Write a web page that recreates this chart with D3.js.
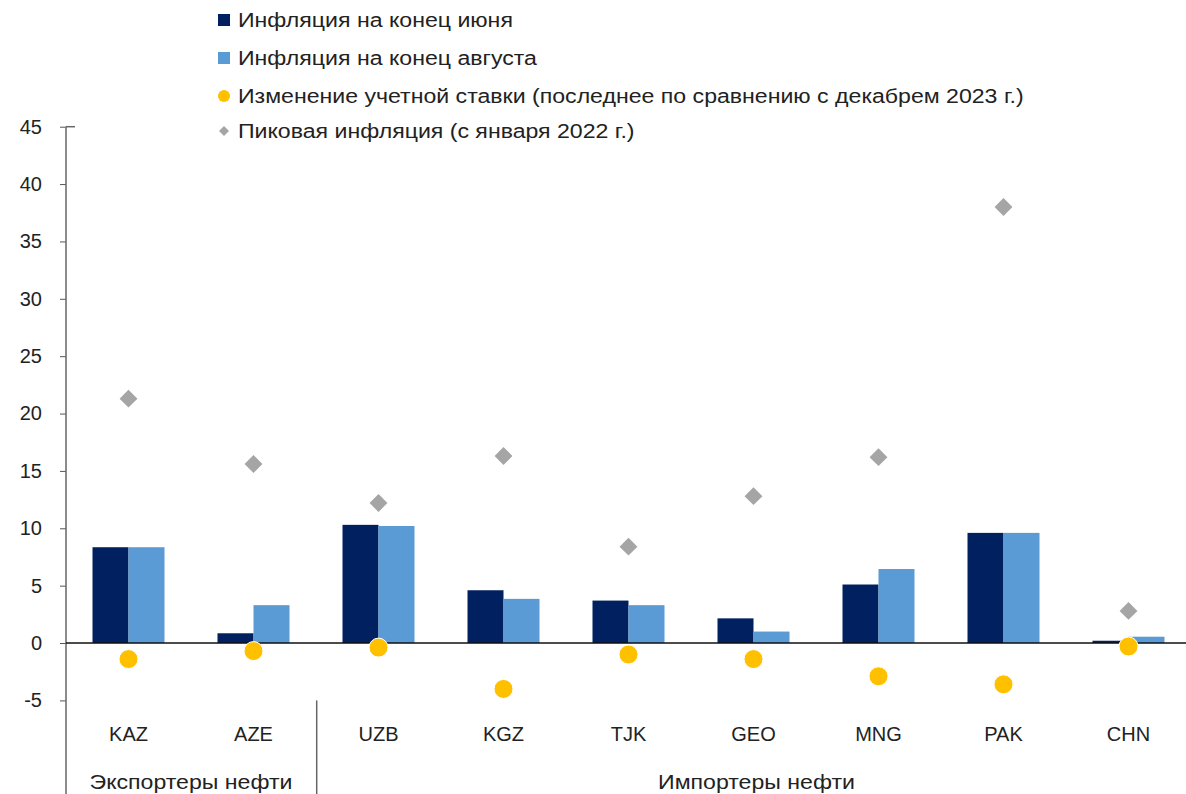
<!DOCTYPE html>
<html lang="ru">
<head>
  <meta charset="UTF-8">
  <title>Инфляция и учетные ставки</title>
  <style>
    * {box-sizing: border-box;}
    html, body {
      margin: 0;
      padding: 0;
      background: #fff;
    }
    svg text {
      font-family: "Liberation Sans", Arial, sans-serif;
      fill: #222;
    }
  </style>
</head>
<body>
  <svg id="chart"></svg>

  <script src="https://cdnjs.cloudflare.com/ajax/libs/d3/7.8.5/d3.min.js"></script>
  <script>
    // data
    const countries = ['KAZ', 'AZE', 'UZB', 'KGZ', 'TJK', 'GEO', 'MNG', 'PAK', 'CHN']
    const inflJune = [8.35, 0.85, 10.3, 4.6, 3.7, 2.15, 5.1, 9.6, 0.2]
    const inflAug = [8.35, 3.3, 10.2, 3.85, 3.3, 1.0, 6.45, 9.6, 0.55]
    const rateChange = [-1.4, -0.7, -0.4, -4.0, -1.0, -1.4, -2.9, -3.6, -0.3]
    const peakInfl = [21.3, 15.6, 12.2, 16.3, 8.4, 12.8, 16.2, 38.0, 2.8]
    const yTicks = [-5, 0, 5, 10, 15, 20, 25, 30, 35, 40, 45]
    const groups = [
      {label: 'Экспортеры нефти', from: 'KAZ', to: 'AZE'},
      {label: 'Импортеры нефти', from: 'UZB', to: 'CHN'}
    ]
    const legendLabels = [
      'Инфляция на конец июня',
      'Инфляция на конец августа',
      'Изменение учетной ставки (последнее по сравнению с декабрем 2023 г.)',
      'Пиковая инфляция (с января 2022 г.)'
    ]

    const colors = {june: '#002060', aug: '#5b9bd5', rate: '#ffc000', peak: '#a5a5a5'}

    const width = 1186
    const height = 794
    // the original Cyrillic font runs wider than Liberation Sans
    const stretch = 1.155

    const svg = d3.select('#chart')
      .attr('width', width)
      .attr('height', height)

    const y = d3.scaleLinear().domain([-5, 45]).range([700.4, 126.7])
    const x = d3.scaleBand()
      .domain(countries)
      .range([66, 1191])
      .paddingInner(0.424)
      .paddingOuter(0.212)
    const xSub = d3.scaleBand()
      .domain(['june', 'aug'])
      .range([0, x.bandwidth()])

    function widen (sel) {
      sel.each(function () {
        const w = this.getComputedTextLength()
        d3.select(this)
          .attr('textLength', w * stretch)
          .attr('lengthAdjust', 'spacingAndGlyphs')
      })
    }

    // y axis
    const yAxis = d3.axisLeft(y)
      .tickValues(yTicks)
      .tickFormat(d => String(d))
      .tickSize(6)
      .tickPadding(18)
    const gy = svg.append('g').attr('transform', 'translate(66,0)').call(yAxis)
    gy.select('.domain').remove()
    gy.selectAll('.tick line').attr('stroke', '#555')
    gy.selectAll('.tick text')
      .style('font-size', '20px')
      .attr('fill', '#222')
    svg.append('line')
      .attr('x1', 66).attr('x2', 66)
      .attr('y1', y(45)).attr('y2', height)
      .attr('stroke', '#666').attr('stroke-width', 1.5)
    svg.append('line')
      .attr('x1', 66).attr('x2', 75)
      .attr('y1', y(45)).attr('y2', y(45))
      .attr('stroke', '#666').attr('stroke-width', 1.5)

    // bars
    const barData = countries.map((c, i) => ({c, june: inflJune[i], aug: inflAug[i]}))
    const bg = svg.append('g')
      .selectAll('g')
      .data(barData)
      .join('g')
      .attr('transform', d => `translate(${x(d.c)},0)`)
    bg.selectAll('rect')
      .data(d => ['june', 'aug'].map(k => ({k, v: d[k]})))
      .join('rect')
      .attr('x', d => xSub(d.k))
      .attr('width', xSub.bandwidth())
      .attr('y', d => y(Math.max(0, d.v)))
      .attr('height', d => Math.abs(y(d.v) - y(0)))
      .attr('fill', d => colors[d.k])

    // zero line
    svg.append('line')
      .attr('x1', 66).attr('x2', width)
      .attr('y1', y(0)).attr('y2', y(0))
      .attr('stroke', '#111').attr('stroke-width', 1.5)

    const cx = c => x(c) + x.bandwidth() / 2

    // peak inflation diamonds
    svg.append('g')
      .selectAll('path')
      .data(countries)
      .join('path')
      .attr('d', d3.symbol(d3.symbolSquare, 160))
      .attr('transform', (d, i) => `translate(${cx(d)},${y(peakInfl[i])}) rotate(45)`)
      .attr('fill', colors.peak)

    // policy rate change dots
    svg.append('g')
      .selectAll('circle')
      .data(countries)
      .join('circle')
      .attr('cx', d => cx(d))
      .attr('cy', (d, i) => y(rateChange[i]))
      .attr('r', 9.5)
      .attr('fill', colors.rate)
      .attr('stroke', '#fff')
      .attr('stroke-width', 1)

    // category labels
    svg.append('g')
      .selectAll('text')
      .data(countries)
      .join('text')
      .attr('x', d => cx(d))
      .attr('y', 741)
      .attr('text-anchor', 'middle')
      .style('font-size', '20px')
      .text(d => d)

    // group separators and labels
    svg.append('line')
      .attr('x1', 316.7).attr('x2', 316.7)
      .attr('y1', y(-5)).attr('y2', height)
      .attr('stroke', '#666').attr('stroke-width', 1.5)
    svg.append('g')
      .selectAll('text')
      .data(groups)
      .join('text')
      .attr('x', d => (cx(d.from) + cx(d.to)) / 2 + (d.from === 'UZB' ? 3 : 0))
      .attr('y', 789)
      .attr('text-anchor', 'middle')
      .style('font-size', '20px')
      .text(d => d.label)
      .call(widen)

    // legend
    const legendKeys = ['june', 'aug', 'rate', 'peak']
    const legendY = [20, 58, 96, 131]
    const lg = svg.append('g')
      .selectAll('g')
      .data(legendKeys)
      .join('g')
      .attr('transform', (d, i) => `translate(224,${legendY[i]})`)
    lg.filter(d => d === 'june' || d === 'aug')
      .append('rect')
      .attr('x', -6).attr('y', -6)
      .attr('width', 12).attr('height', 12)
      .attr('fill', d => colors[d])
    lg.filter(d => d === 'rate')
      .append('circle')
      .attr('r', 6)
      .attr('fill', colors.rate)
    lg.filter(d => d === 'peak')
      .append('path')
      .attr('d', d3.symbol(d3.symbolSquare, 50))
      .attr('transform', 'rotate(45)')
      .attr('fill', colors.peak)
    lg.append('text')
      .attr('x', 14)
      .attr('y', 7)
      .style('font-size', '20px')
      .text((d, i) => legendLabels[i])
      .call(widen)
  </script>
</body>
</html>
